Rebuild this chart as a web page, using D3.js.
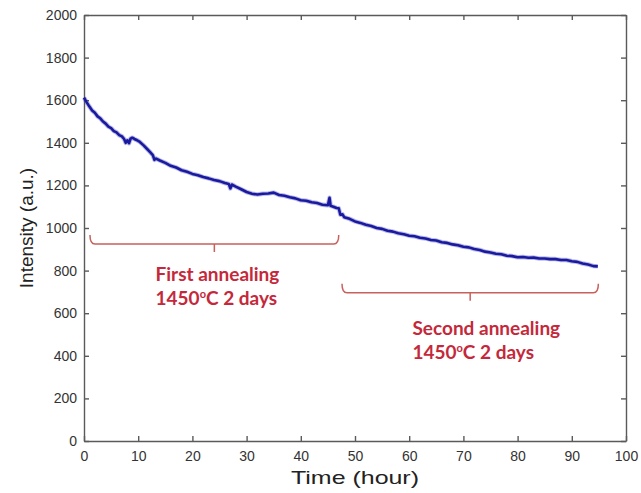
<!DOCTYPE html>
<html>
  <head>
    <meta charset="utf-8">
    <script src="https://d3js.org/d3.v7.min.js" type="text/javascript"></script>
    <style>
      body { margin: 0; background: white; }
      .axis path, .axis line { fill: none; stroke: #5a5a5a; stroke-width: 1.4; }
      .axis text { fill: #333; font-family: "Liberation Sans", Arial, sans-serif; font-size: 14px; }
      .label { font-family: "Liberation Sans", Arial, sans-serif; fill: #222; }
      .note { font-family: Lato, "Open Sans", sans-serif; font-weight: bold; font-size: 19px; fill: #c4283a; }
      .bracket { fill: none; stroke: #c8605c; stroke-width: 1.5; }
    </style>
  </head>
  <body>
    <script>

      // intensity trace
      var time = [0, 0.5, 1, 1.5, 2, 2.5, 3, 3.5, 4, 4.5, 5, 5.5, 6, 6.5, 7, 7.4, 7.7, 8, 8.3, 8.6, 8.9, 9.3, 9.8, 10.3,
        11, 11.6, 12.2, 12.7, 13, 13.3, 14, 15, 16, 17, 18, 19, 20, 21, 22, 23, 24, 25, 26, 26.7, 27, 27.3, 28, 29,
        30, 31, 32, 33, 34, 35, 36, 37, 38, 39, 40, 41, 42, 43, 44, 45, 45.3, 45.5, 46, 46.6, 47, 47.3, 47.7, 48,
        49, 50, 51, 52, 53, 54, 55, 56, 57, 58, 59, 60, 61, 62, 63, 64, 65, 66, 67, 68, 69, 70, 71, 72, 73, 74,
        75, 76, 77, 78, 79, 80, 81, 82, 83, 84, 85, 86, 87, 88, 89, 90, 91, 92, 93, 94, 94.8];
      var intensity = [1612, 1590, 1570, 1552, 1541, 1524, 1515, 1500, 1490, 1476, 1469, 1455, 1449, 1436, 1430, 1418, 1400, 1412, 1398, 1420, 1424, 1418, 1412, 1404,
        1388, 1372, 1356, 1342, 1320, 1326, 1317, 1306, 1292, 1284, 1271, 1264, 1254, 1248, 1239, 1233, 1225, 1220, 1211, 1207, 1186, 1204, 1194, 1182,
        1169, 1161, 1157, 1161, 1162, 1166, 1155, 1151, 1144, 1139, 1130, 1128, 1121, 1117, 1109, 1107, 1142, 1104, 1100, 1094, 1093, 1062, 1064, 1051,
        1043, 1031, 1024, 1015, 1009, 1000, 996, 987, 983, 975, 971, 964, 961, 954, 951, 944, 941, 933, 930, 923, 919, 912, 909, 901, 897, 889,
        885, 879, 877, 870, 868, 863, 864, 860, 861, 857, 857, 854, 854, 850, 850, 844, 841, 833, 829, 821, 820];

      var xTicks = [0, 10, 20, 30, 40, 50, 60, 70, 80, 90, 100];
      var yTicks = [0, 200, 400, 600, 800, 1000, 1200, 1400, 1600, 1800, 2000];

      // annotation brackets: start/end time and level
      var bracketStart = [1.1, 47.6];
      var bracketEnd = [47.0, 94.9];
      var bracketLevel = [925, 696];
      var noteLine1 = ["First annealing", "Second annealing"];
      var noteTemp = ["1450", "1450"];
      var noteRest = ["C 2 days", "C 2 days"];
      var noteTime = [13.2, 60.6];
      var noteLevel = [753, 497];

      var margin = {top: 15, right: 15, bottom: 52, left: 84};
      var width = 641 - margin.left - margin.right;
      var height = 493 - margin.top - margin.bottom;

      var x = d3.scaleLinear().domain([0, 100]).range([0, width]);
      var y = d3.scaleLinear().domain([0, 2000]).range([height, 0]);

      var svg = d3.select("body").append("svg")
          .attr("width", 641)
          .attr("height", 493)
        .append("g")
          .attr("transform", "translate(" + margin.left + "," + margin.top + ")");

      // box with ticks on every side, MATLAB style
      svg.append("g")
          .attr("class", "axis")
          .attr("transform", "translate(0," + height + ")")
          .call(d3.axisBottom(x).tickValues(xTicks).tickSize(-5).tickSizeOuter(0).tickPadding(10).tickFormat(d3.format("d")));
      svg.append("g")
          .attr("class", "axis")
          .call(d3.axisLeft(y).tickValues(yTicks).tickSize(-5).tickSizeOuter(0).tickPadding(7).tickFormat(d3.format("d")));
      svg.append("g")
          .attr("class", "axis")
          .call(d3.axisTop(x).tickValues(xTicks).tickSize(-5).tickSizeOuter(0).tickFormat(""));
      svg.append("g")
          .attr("class", "axis")
          .attr("transform", "translate(" + width + ",0)")
          .call(d3.axisRight(y).tickValues(yTicks).tickSize(-5).tickSizeOuter(0).tickFormat(""));

      var line = d3.line()
          .x(function(d, i) { return x(time[i]); })
          .y(function(d) { return y(d); });

      // soft halo under the trace, the scan is a bit blurry
      svg.append("path")
          .datum(intensity)
          .attr("d", line)
          .style("fill", "none")
          .style("stroke", "#3a3ab8")
          .style("stroke-opacity", 0.35)
          .style("stroke-width", 4.5)
          .style("stroke-linejoin", "round");
      svg.append("path")
          .datum(intensity)
          .attr("d", line)
          .style("fill", "none")
          .style("stroke", "#1a1aa0")
          .style("stroke-width", 2.6)
          .style("stroke-linejoin", "round");

      // brackets
      bracketStart.forEach(function(t0, i) {
        var x0 = x(t0), x1 = x(bracketEnd[i]), yl = y(bracketLevel[i]);
        var xm = (x0 + x1) / 2;
        svg.append("path")
            .attr("class", "bracket")
            .attr("d", "M" + x0 + "," + (yl - 9) + "Q" + x0 + "," + yl + " " + (x0 + 5) + "," + yl +
                "H" + (x1 - 5) + "Q" + x1 + "," + yl + " " + x1 + "," + (yl - 9) +
                "M" + xm + "," + yl + "V" + (yl + 8));

        svg.append("text")
            .attr("class", "note")
            .attr("x", x(noteTime[i]))
            .attr("y", y(noteLevel[i]))
            .text(noteLine1[i]);
        var l2 = svg.append("text")
            .attr("class", "note")
            .attr("x", x(noteTime[i]))
            .attr("y", y(noteLevel[i]) + 24);
        l2.append("tspan").text(noteTemp[i]);
        l2.append("tspan").attr("dy", -7).style("font-size", "11px").text("o");
        l2.append("tspan").attr("dy", 7).text(noteRest[i]);
      });

      // axis labels
      svg.append("text")
          .attr("class", "label")
          .attr("x", width / 2)
          .attr("y", height + 43)
          .attr("text-anchor", "middle")
          .style("font-size", "19px")
          .attr("textLength", 128)
          .attr("lengthAdjust", "spacingAndGlyphs")
          .text("Time (hour)");

      svg.append("text")
          .attr("class", "label")
          .attr("transform", "rotate(-90)")
          .attr("x", -height / 2)
          .attr("y", -51)
          .attr("text-anchor", "middle")
          .style("font-size", "19px")
          .text("Intensity (a.u.)");

    </script>
  </body>
</html>
